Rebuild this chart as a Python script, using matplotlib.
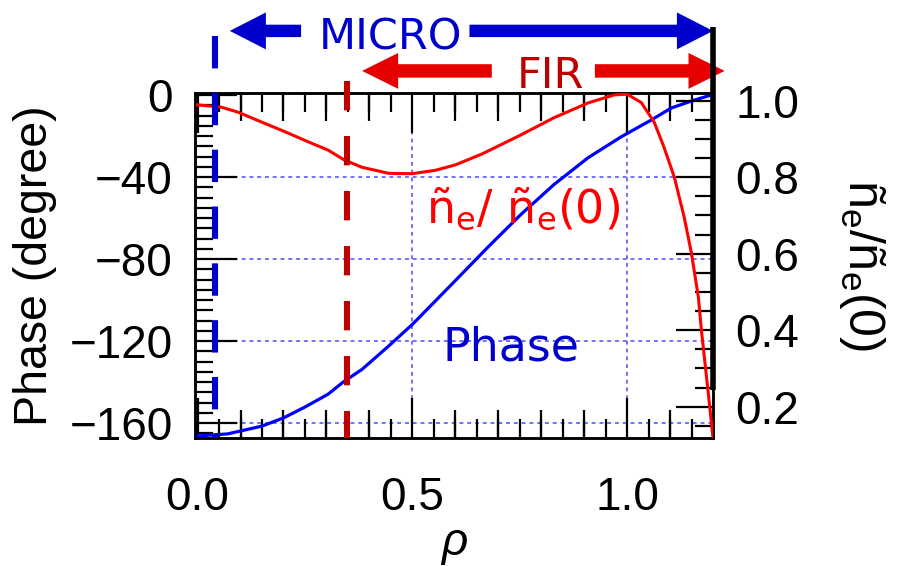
import numpy as np
import matplotlib
matplotlib.use('Agg')
import matplotlib.pyplot as plt
from matplotlib.patches import FancyArrow
from matplotlib.transforms import blended_transform_factory
from matplotlib.ticker import MultipleLocator

# ---------------- data ----------------
rho_phase = [0.0, 0.07, 0.15, 0.2, 0.25, 0.304, 0.339, 0.383, 0.444, 0.5, 0.53,
             0.596, 0.675, 0.752, 0.829, 0.909, 0.986, 1.056, 1.103, 1.15, 1.2]
phase_deg = [-166.3, -165.3, -161.5, -157.5, -152.2, -145.9, -140.0, -133.8, -122.6,
             -111.9, -105.5, -91.4, -74.4, -58.4, -43.8, -30.6, -20.4, -12.2, -6.3,
             -2.9, 0.3]

rho_ne = [0.0, 0.055, 0.094, 0.149, 0.203, 0.25, 0.305, 0.34, 0.382, 0.445, 0.499,
          0.554, 0.6, 0.663, 0.752, 0.829, 0.909, 0.97, 1.0, 1.033, 1.063, 1.086,
          1.11, 1.133, 1.15, 1.166, 1.173, 1.19, 1.2]
ne_norm = [0.989, 0.983, 0.970, 0.944, 0.919, 0.896, 0.870, 0.846, 0.826, 0.810,
           0.809, 0.818, 0.832, 0.861, 0.910, 0.955, 0.994, 1.015, 1.017, 0.995,
           0.944, 0.878, 0.800, 0.695, 0.600, 0.486, 0.400, 0.225, 0.118]

x_ticks = [0.0, 0.5, 1.0]
x_tick_labels = ['0.0', '0.5', '1.0']
x_mid_ticks = [0.1, 0.2, 0.3, 0.4, 0.6, 0.7, 0.8, 0.9, 1.1]
phase_ticks = [0, -40, -80, -120, -160]
phase_tick_labels = ['0', '\u221240', '\u221280', '\u2212120', '\u2212160']
ne_ticks = [0.2, 0.4, 0.6, 0.8, 1.0]
ne_tick_labels = ['0.2', '0.4', '0.6', '0.8', '1.0']

micro_rho = 0.04      # MICRO boundary (blue dashed)
fir_rho = 0.348       # FIR boundary (red dashed)
edge_rho = 1.2

plt.rcParams['font.family'] = ['Liberation Sans', 'DejaVu Sans']

W, H = 899, 566
fig = plt.figure(figsize=(W / 100, H / 100), dpi=100)
fig.patch.set_facecolor('white')
L, R, T, B = 195, 713, 93, 438
ax = fig.add_axes([L / W, 1 - B / H, (R - L) / W, (B - T) / H])
ax2 = ax.twinx()

ax.set_xlim(-0.006, 1.2)
ax.set_ylim(-167.3, 1.0)
ax2.set_ylim(0.118, 1.02)

# grid (dotted blue)
grid_kw = dict(color='#7070ff', lw=1.4, ls=(0, (2, 2)), zorder=0)
for xv in [0.5, 1.0]:
    ax.axvline(xv, **grid_kw)
for yv in phase_ticks[1:]:
    ax.axhline(yv, **grid_kw)

# curves
ax.plot(rho_phase, phase_deg, color='#0000ff', lw=2.3, zorder=3,
        solid_joinstyle='round')
ax2.plot(rho_ne, ne_norm, color='#ff0000', lw=2.2, zorder=3,
         solid_joinstyle='round')

# ticks
tick_font = 33
ax.set_xticks(x_ticks, x_tick_labels)
ax.xaxis.set_minor_locator(MultipleLocator(0.05))
ax.tick_params(axis='x', which='major', direction='in', top=True, bottom=True,
               length=29, width=1.6, labelsize=tick_font, pad=27)
ax.tick_params(axis='x', which='minor', direction='in', top=True, bottom=True,
               length=14, width=1.6)
ax.set_yticks(phase_ticks, phase_tick_labels)
ax.yaxis.set_minor_locator(MultipleLocator(5))
ax.tick_params(axis='y', which='major', direction='in', length=30, width=1.6,
               labelsize=tick_font, pad=16)
ax.tick_params(axis='y', which='minor', direction='in', length=13, width=1.6)

ax2.set_yticks(ne_ticks, ne_tick_labels)
ax2.yaxis.set_minor_locator(MultipleLocator(0.05))
ax2.tick_params(axis='y', which='major', direction='in', length=27, width=1.6,
                labelsize=tick_font, pad=16)
ax2.tick_params(axis='y', which='minor', direction='in', length=13, width=1.6)

for loc in ['bottom', 'top']:
    sec = ax.secondary_xaxis(loc)
    sec.set_xticks(x_mid_ticks)
    sec.tick_params(direction='in', length=20, width=1.6,
                    labelbottom=False, labeltop=False)
    for s in sec.spines.values():
        s.set_visible(False)

for a in (ax, ax2):
    for s in a.spines.values():
        s.set_linewidth(1.8)
        s.set_color('black')

# axis labels
ax.set_xlabel('\u03c1', fontsize=33, style='italic')
ax.xaxis.label.set_va('baseline')
ax.xaxis.set_label_coords(0.5, -0.339)
ax.set_ylabel('Phase (degree)', fontsize=33.5, va='center')
ax.yaxis.set_label_coords(-0.309, 0.5)
ax2.set_ylabel('\u00f1$_\\mathregular{e}$/\u00f1$_\\mathregular{e}$(0)', fontsize=36,
               rotation=-90, va='center')
ax2.yaxis.set_label_coords(1.288, 0.5)

trans = blended_transform_factory(ax.transData, ax.transAxes)

# extended right edge line
ax2.plot([edge_rho, edge_rho], [0.14, 1.19], transform=trans, color='black',
         lw=4, clip_on=False, zorder=5, solid_capstyle='butt')

# dashed boundaries
ax2.plot([micro_rho, micro_rho], [1.165, 0.0], transform=trans, color='#0000cc',
         lw=4.4, dashes=(5.3, 4.0), clip_on=False, zorder=6)
ax2.plot([fir_rho, fir_rho], [1.035, 0.0], transform=trans, color='#c00000',
         lw=4.4, dashes=(4.8, 4.2), clip_on=False, zorder=6)

# arrows
def harrow(x0, x1, y, color, width, head_w, head_l):
    arr = FancyArrow(x0, y, x1 - x0, 0, width=width, head_width=head_w,
                     head_length=head_l, length_includes_head=True,
                     transform=trans, color=color, clip_on=False, lw=0)
    ax2.add_patch(arr)

harrow(0.241, 0.075, 1.18, '#0000cc', 0.036, 0.107, 0.084)
harrow(0.633, 1.2, 1.18, '#0000cc', 0.036, 0.107, 0.084)
harrow(0.685, 0.383, 1.064, '#e60000', 0.039, 0.104, 0.084)
harrow(0.925, 1.227, 1.064, '#e60000', 0.039, 0.104, 0.084)

ax2.text(0.449, 1.125, 'MICRO', transform=trans, ha='center', va='baseline',
         fontsize=31, color='#0000cc', family='DejaVu Sans', clip_on=False)
ax2.text(0.822, 1.014, 'FIR', transform=trans, ha='center', va='baseline',
         fontsize=31, color='#c00000', family='DejaVu Sans', clip_on=False)

ax.text(0.729, -129.4, 'Phase', ha='center', va='baseline', fontsize=33,
        color='#0000cc', family='DejaVu Sans', zorder=4)
ax.text(0.757, -62.3, '\u00f1$_\\mathregular{e}$/ \u00f1$_\\mathregular{e}$(0)',
        ha='center', va='baseline', fontsize=33, color='#ff0000',
        family='DejaVu Sans', zorder=4)

fig.savefig('out.png', dpi=100)
